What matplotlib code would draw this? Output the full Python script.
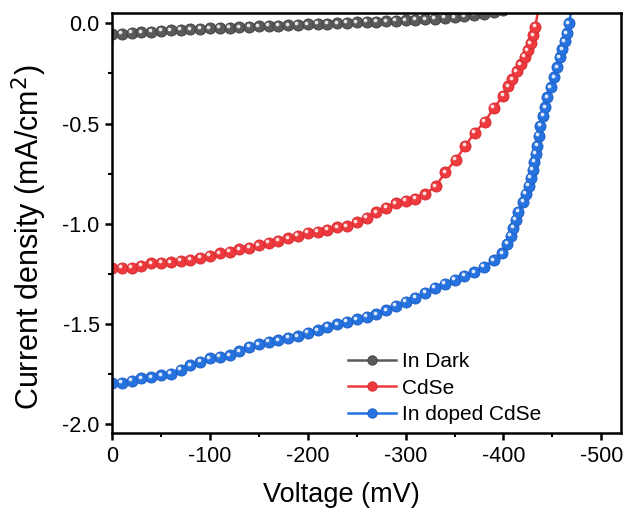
import matplotlib
matplotlib.use("Agg")
import matplotlib.pyplot as plt
from matplotlib.ticker import MultipleLocator, FormatStrFormatter
from matplotlib.transforms import offset_copy

plt.rcParams['font.family'] = ['Liberation Sans', 'DejaVu Sans']
plt.rcParams['axes.unicode_minus'] = False

# In Dark
dark_v = [0, -10, -20, -30, -40, -50, -60, -70, -80, -90, -100, -110, -120, -130,
          -140, -150, -160, -170, -180, -190, -200, -210, -220, -230, -240, -250,
          -260, -270, -280, -290, -300, -310, -320, -330, -340, -350, -360, -370,
          -380, -390, -400]
dark_j = [-0.055, -0.052, -0.048, -0.044, -0.041, -0.038, -0.035, -0.032, -0.030,
          -0.027, -0.025, -0.023, -0.021, -0.019, -0.017, -0.015, -0.013, -0.011,
          -0.009, -0.007, -0.005, -0.003, -0.001, 0.001, 0.003, 0.005, 0.007, 0.009,
          0.011, 0.013, 0.016, 0.018, 0.021, 0.024, 0.027, 0.031, 0.036, 0.042,
          0.049, 0.057, 0.066]

# CdSe
cdse_v = [0, -10, -20, -30, -40, -50, -60, -70, -80, -90, -100, -110, -120, -130,
          -140, -150, -160, -170, -180, -190, -200, -210, -220, -230, -240, -250,
          -260, -270, -280, -290, -300, -310, -320, -331, -340.5, -351, -361,
          -370.5, -381, -390, -400, -405, -409, -413.5, -417.5, -421.5, -425,
          -428, -430.5, -432.5, -436]
cdse_j = [-1.222, -1.219, -1.220, -1.211, -1.198, -1.195, -1.193, -1.186, -1.181,
          -1.170, -1.161, -1.148, -1.140, -1.127, -1.120, -1.107, -1.095, -1.085,
          -1.072, -1.060, -1.046, -1.040, -1.031, -1.018, -1.012, -0.992, -0.970,
          -0.943, -0.920, -0.899, -0.885, -0.875, -0.852, -0.812, -0.743, -0.682,
          -0.612, -0.545, -0.492, -0.422, -0.362, -0.315, -0.279, -0.240, -0.204,
          -0.168, -0.135, -0.099, -0.060, -0.017, 0.080]

# In doped CdSe
indoped_v = [0, -10, -20, -30, -40, -50, -60, -70, -80, -90, -100, -110, -120,
             -130, -140, -150, -160, -170, -180, -190, -200, -210, -220, -230,
             -240, -250, -260, -270, -280, -290, -300, -310, -320, -330, -340,
             -350, -360, -370, -380, -390, -399, -404, -407.5, -410, -412.5, -415,
             -420, -423, -426, -428, -430, -431.5, -433, -434.5, -436, -437.5,
             -440.5, -442.5, -445, -448.5, -452, -455, -457.5, -460, -462.5,
             -464.5, -467, -470]
indoped_j = [-1.797, -1.794, -1.784, -1.772, -1.767, -1.757, -1.750, -1.730, -1.706,
             -1.689, -1.672, -1.664, -1.656, -1.636, -1.614, -1.601, -1.589, -1.581,
             -1.569, -1.561, -1.544, -1.531, -1.514, -1.502, -1.489, -1.476, -1.464,
             -1.451, -1.431, -1.410, -1.390, -1.370, -1.345, -1.320, -1.300, -1.280,
             -1.260, -1.242, -1.215, -1.183, -1.148, -1.100, -1.060, -1.020, -0.980,
             -0.940, -0.890, -0.850, -0.810, -0.770, -0.730, -0.690, -0.650, -0.610,
             -0.560, -0.510, -0.460, -0.420, -0.370, -0.320, -0.270, -0.220, -0.170,
             -0.130, -0.090, -0.050, 0.000, 0.080]

series = [
    (dark_v, dark_j, "In Dark", "#5a5a5a", "#3e3e3e"),
    (cdse_v, cdse_j, "CdSe", "#ee3a3e", "#d42a2f"),
    (indoped_v, indoped_j, "In doped CdSe", "#2673e0", "#1a5cc4"),
]


def main():
    fig = plt.figure(figsize=(6.3, 5.12), dpi=100, facecolor="white")
    ax = fig.add_axes([0.178, 0.1537, 0.8075, 0.8203])

    for v, j, name, col, edge in series:
        ax.plot(v, j, "-o", color=col, lw=1.8, ms=8.0, mfc=col, mec=edge,
                mew=0.6, label=name)
        # little white shine on each ball
        shine = offset_copy(ax.transData, fig=fig, x=-1.1, y=1.1, units="points")
        ax.plot(v, j, "o", ms=2.7, color="white", alpha=0.85, mew=0,
                transform=shine)

    ax.set_xlim(0, -520)
    ax.set_ylim(-2.046, 0.05)
    ax.xaxis.set_major_locator(MultipleLocator(100))
    ax.xaxis.set_minor_locator(MultipleLocator(50))
    ax.yaxis.set_major_locator(MultipleLocator(0.5))
    ax.yaxis.set_minor_locator(MultipleLocator(0.25))
    ax.yaxis.set_major_formatter(FormatStrFormatter("%.1f"))

    for s in ax.spines.values():
        s.set_linewidth(1.8)
    ax.tick_params(which="major", length=5, width=1.8, labelsize=15.5, pad=4)
    ax.tick_params(which="minor", length=3, width=1.5)

    ax.set_xlabel("Voltage (mV)", fontsize=19.5)
    ax.set_ylabel("Current density (mA/cm$^2$)", fontsize=22)
    ax.xaxis.set_label_coords(0.45, -0.115)
    ax.yaxis.set_label_coords(-0.124, 0.467)

    ax.legend(loc="lower left", bbox_to_anchor=(0.463, 0.022), frameon=False,
              fontsize=15, handlelength=2.3, handletextpad=0.3,
              labelspacing=0.36, borderaxespad=0, borderpad=0,
              markerscale=0.85)

    plt.savefig("out.png", dpi=100)


if __name__ == "__main__":
    main()
